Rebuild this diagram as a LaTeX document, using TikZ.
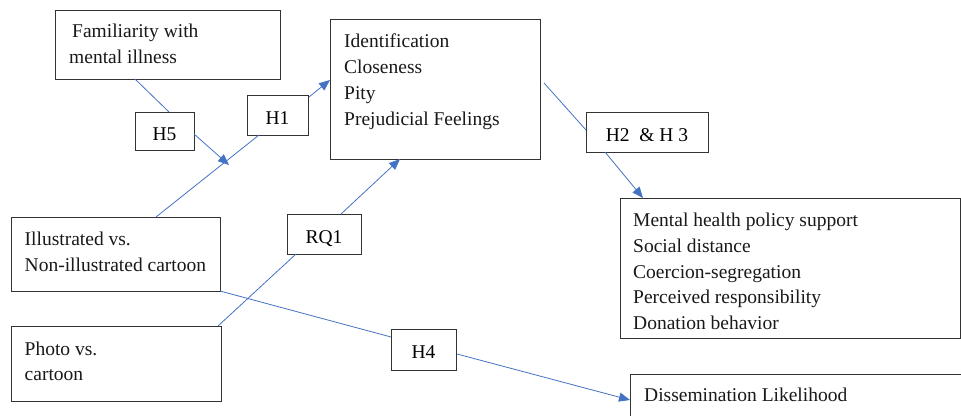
\documentclass[tikz,border=0pt]{standalone}
\usepackage{fontspec}
\setmainfont{Liberation Serif}
\usetikzlibrary{arrows.meta,calc}
\definecolor{conncol}{HTML}{4472C4}
\definecolor{boxcol}{HTML}{333333}
\tikzset{
  box/.style={draw=boxcol, line width=0.9pt, inner sep=0pt, outer sep=0pt, rectangle},
  hbox/.style={box, font=\fontsize{19.5pt}{26pt}\selectfont, text height=18pt, text depth=0pt},
  txt/.style={anchor=base west, inner sep=0pt, font=\fontsize{19.5pt}{26pt}\selectfont, text=black!90},
  conn/.style={draw=conncol, line width=0.8pt},
  arr/.style={conn, -{Triangle[length=11pt,width=9pt]}, color=conncol},
}
\begin{document}
\begin{tikzpicture}[x=1pt,y=-1pt]
\useasboundingbox (0,0) rectangle (961,415);
\clip (0,0) rectangle (961,415);
\fill[white] (0,0) rectangle (961,415);
% boxes
\node[box, minimum width=225pt, minimum height=69pt] (fam) at (167.5,44.5) {};
\node[box, minimum width=210pt, minimum height=140pt] (ident) at (435,89) {};
\node[box, minimum width=340pt, minimum height=140pt] (mh) at (790,268) {};
\node[box, minimum width=209pt, minimum height=74pt] (ill) at (115.5,254) {};
\node[box, minimum width=210pt, minimum height=75pt] (photo) at (116,363.5) {};
\node[box, minimum width=370pt, minimum height=66pt] (diss) at (815,407) {};
% label boxes
\node[hbox, minimum width=59pt, minimum height=38pt] (h5) at (164.5,131) {H5};
\node[hbox, minimum width=61pt, minimum height=40pt] (h1) at (277.5,115) {H1};
\node[hbox, minimum width=122pt, minimum height=40pt] (h23) at (647,132) {H2 \ \&\ H 3};
\node[hbox, minimum width=74pt, minimum height=40pt] (rq1) at (324,234) {RQ1};
\node[hbox, minimum width=65pt, minimum height=41pt] (h4) at (423.5,349.5) {H4};
% texts
\node[txt] (famA) at (72,37.5) {Familiarity with};
\node[txt] (famB) at (69,63.5) {mental illness};
\node[txt] (idA) at (344,47) {Identification};
\node[txt] (idB) at (344,73) {Closeness};
\node[txt] (idC) at (344,99) {Pity};
\node[txt] (idD) at (344,125) {Prejudicial Feelings};
\node[txt] (mhA) at (633,226.5) {Mental health policy support};
\node[txt] (mhB) at (633,252.5) {Social distance};
\node[txt] (mhC) at (633,278) {Coercion-segregation};
\node[txt] (mhD) at (633,303.5) {Perceived responsibility};
\node[txt] (mhE) at (633,329.5) {Donation behavior};
\node[txt] (illA) at (24.5,245) {Illustrated vs.};
\node[txt] (illB) at (24.5,271) {Non-illustrated cartoon};
\node[txt] (phA) at (24.5,355.5) {Photo vs.};
\node[txt] (phB) at (24.5,380.5) {cartoon};
\node[txt] (diA) at (644,401) {Dissemination Likelihood};
% connectors
\coordinate (mod) at (229,165);
\draw[conn] ($(fam.south west)+(80,0)$) -- ($(h5.north)+(4.5,0)$);
\draw[arr] ($(h5.east)+(0,3)$) -- (mod);
\draw[conn] ($(ill.north west)+(145,0)$) -- ($(h1.south west)+(12,0)$);
\draw[arr] ($(h1.north east)+(1,2)$) -- ($(ident.west)+(0,-9)$);
\draw[conn] ($(ident.east)+(4,-6)$) -- ($(h23.west)+(0,-2)$);
\draw[arr] ($(h23.south west)+(19,0)$) -- ($(mh.north west)+(23,0)$);
\draw[conn] ($(photo.north east)+(-3,0)$) -- ($(rq1.south west)+(9,0)$);
\draw[arr] ($(rq1.north west)+(54,0)$) -- ($(ident.south west)+(70,0)$);
\draw[conn] (ill.south east) -- ($(h4.north west)+(0,8)$);
\draw[arr] ($(h4.east)+(1,4.5)$) -- ($(diss.north west)+(0,26)$);
\end{tikzpicture}
\end{document}
